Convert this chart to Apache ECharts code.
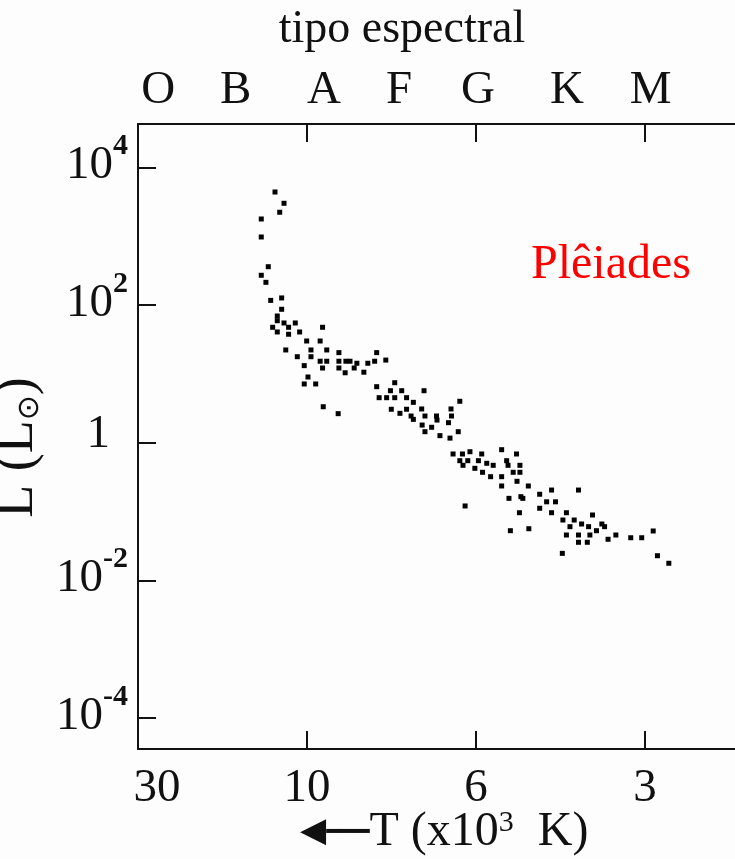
<!DOCTYPE html>
<html>
<head>
<meta charset="utf-8">
<script src="https://cdn.jsdelivr.net/npm/echarts@6/dist/echarts.min.js"></script>
<style>
  html, body { margin: 0; padding: 0; background: #fdfdfd; }
  #chart { width: 735px; height: 859px; }
</style>
</head>
<body>
<div id="chart"></div>
<script>
// Temperature ticks along the bottom axis (thousands of K)
const tempTicks = [30, 10, 6, 3];
const tempTickLabels = ['30', '10', '6', '3'];

// Spectral classes along the top axis and the temperature each letter sits at
const spectralTypes = ['O', 'B', 'A', 'F', 'G', 'K', 'M'];
const spectralTemps = [26.3, 15.9, 9.5, 7.57, 5.95, 4.13, 2.93];

// Luminosity ticks (solar units)
const lumTicks = [1e-4, 1e-2, 1, 1e2, 1e4];

// Pleiades members: effective temperature (10^3 K)
const starTemp = [
  12.31, 11.61, 11.94, 13.46, 13.46, 12.86, 13.46, 13.06, 12.66, 11.79,
  11.79, 12.13, 12.13, 11.61, 12.50, 12.13, 11.27, 10.79, 11.27, 10.49,
  9.54, 10.02, 9.61, 11.48, 9.88, 9.42, 10.65, 9.88, 10.18, 9.61,
  9.42, 9.54, 9.08, 9.08, 8.89, 8.78, 9.08, 8.91, 8.60, 8.67,
  8.32, 8.42, 8.10, 8.15, 7.88, 9.97, 10.18, 9.74, 9.52, 9.10,
  8.10, 7.67, 7.77, 7.51, 8.04, 7.86, 7.67, 7.40, 7.25, 7.02,
  7.75, 7.55, 7.40, 7.30, 7.25, 7.07, 7.00, 6.76, 6.75, 6.52,
  6.47, 6.46, 6.30, 7.06, 6.86, 7.00, 6.69, 6.49, 6.33, 6.43,
  6.25, 6.11, 6.30, 6.15, 5.94, 5.86, 5.74, 6.02, 5.40, 5.08,
  5.59, 5.29, 5.26, 5.01, 6.24, 5.84, 5.65, 5.40, 5.15, 5.01,
  5.07, 5.40, 4.84, 4.62, 4.40, 3.94, 4.99, 5.24, 4.95, 4.49,
  4.33, 4.62, 4.40, 5.02, 6.20, 4.14, 3.72, 4.20, 4.01, 5.21,
  4.83, 4.08, 3.89, 3.78, 3.58, 3.54, 3.66, 4.14, 3.94, 3.76,
  3.94, 3.80, 3.38, 3.49, 3.18, 3.04, 2.90, 4.21, 2.85, 2.72
];

// Pleiades members: luminosity (L_sun), same order as starTemp
const starLum = [
  4390, 3010, 2230, 1780, 975, 361, 271, 214, 117, 127,
  86.9, 69.4, 59.3, 55.0, 47.6, 40.7, 47.6, 55.0, 37.7, 40.7,
  47.6, 30.1, 30.1, 22.3, 22.3, 22.3, 17.8, 17.8, 13.2, 15.3,
  15.3, 12.2, 20.4, 15.3, 15.3, 15.3, 12.2, 10.4, 14.3, 12.2,
  14.3, 10.6, 20.4, 15.3, 15.9, 9.03, 7.15, 7.15, 3.34, 2.65,
  6.53, 7.46, 5.71, 5.71, 4.52, 4.52, 4.52, 4.52, 3.87, 5.71,
  3.07, 2.68, 3.07, 2.45, 2.19, 3.10, 2.45, 2.45, 2.14, 1.96,
  3.10, 2.45, 4.01, 1.81, 1.68, 1.45, 1.27, 1.17, 1.45, 0.688,
  0.688, 0.742, 0.550, 0.550, 0.550, 0.688, 0.504, 0.426, 0.794, 0.688,
  0.471, 0.550, 0.471, 0.471, 0.471, 0.373, 0.322, 0.322, 0.373, 0.373,
  0.276, 0.236, 0.236, 0.179, 0.206, 0.206, 0.165, 0.156, 0.156, 0.139,
  0.139, 0.112, 0.0965, 0.0965, 0.121, 0.0965, 0.0894, 0.0756, 0.0756, 0.0529,
  0.0565, 0.0605, 0.0662, 0.0605, 0.0662, 0.0605, 0.0529, 0.0458, 0.0458, 0.0458,
  0.0359, 0.0359, 0.0458, 0.0397, 0.0418, 0.0418, 0.0524, 0.0248, 0.0229, 0.0178
];

// The temperature axis is spaced evenly between its labelled ticks,
// log-interpolated inside each interval (hot stars on the left).
const logTicks = tempTicks.map(Math.log10);
function tempToAxis(t) {
  const lt = Math.log10(t);
  let i = 0;
  while (i < logTicks.length - 2 && lt < logTicks[i + 1]) i++;
  return i + (logTicks[i] - lt) / (logTicks[i] - logTicks[i + 1]);
}

const tickPos = tempTicks.map(tempToAxis);
const spectralPos = spectralTemps.map(tempToAxis);
const lumExp = lumTicks.map(v => Math.round(Math.log10(v)));

function indexOfPos(list, v) {
  return list.findIndex(p => Math.abs(p - v) < 1e-6);
}

const serif = '"Liberation Serif", "Times New Roman", serif';
const sans = '"DejaVu Sans", sans-serif';
const ink = '#111';
const X_MAX = 3.533;

const points = starTemp.map((t, i) => [tempToAxis(t), Math.log10(starLum[i])]);

const chart = echarts.init(document.getElementById('chart'), null, { renderer: 'canvas' });

const axisLineStyle = { show: true, onZero: false, lineStyle: { color: ink, width: 2 } };
const tickStyle = { color: ink, width: 2 };

chart.setOption({
  backgroundColor: '#fdfdfd',
  animation: false,
  grid: { left: 138, right: 0, top: 124, bottom: 110, containLabel: false, outerBoundsMode: 'none' },
  xAxis: [
    {
      type: 'value',
      position: 'bottom',
      min: 0,
      max: X_MAX,
      axisLine: axisLineStyle,
      splitLine: { show: false },
      axisTick: { show: true, inside: true, length: 18, lineStyle: tickStyle, customValues: tickPos },
      axisLabel: {
        customValues: tickPos,
        margin: 16,
        color: ink,
        fontFamily: serif,
        fontSize: 47,
        formatter: v => {
          const i = indexOfPos(tickPos, v);
          return i === 0 ? '{first|' + tempTickLabels[i] + '}' : tempTickLabels[i];
        },
        rich: { first: { fontFamily: serif, fontSize: 47, color: ink, padding: [0, 0, 0, 38] } }
      }
    },
    {
      type: 'value',
      position: 'top',
      min: 0,
      max: X_MAX,
      axisLine: axisLineStyle,
      splitLine: { show: false },
      axisTick: { show: true, inside: true, length: 18, lineStyle: tickStyle, customValues: tickPos },
      axisLabel: {
        customValues: spectralPos,
        margin: 10,
        color: ink,
        fontFamily: serif,
        fontSize: 47,
        formatter: v => spectralTypes[indexOfPos(spectralPos, v)]
      }
    }
  ],
  yAxis: {
    type: 'value',
    min: -4.447,
    max: 4.63,
    axisLine: axisLineStyle,
    splitLine: { show: false },
    axisTick: { show: true, inside: true, length: 18, lineStyle: tickStyle, customValues: lumExp },
    axisLabel: {
      customValues: lumExp,
      margin: 10,
      color: ink,
      formatter: v => {
        const e = Math.round(v);
        return e === 0 ? '{one|1}' : '{n|10}{s|' + e + '}';
      },
      rich: {
        n: { fontFamily: serif, fontSize: 47, lineHeight: 44, color: ink, verticalAlign: 'bottom' },
        s: { fontFamily: serif, fontSize: 30, fontWeight: 'bold', lineHeight: 28, color: ink,
             verticalAlign: 'bottom', padding: [0, 0, 28, 0] },
        one: { fontFamily: serif, fontSize: 47, lineHeight: 44, color: ink, padding: [0, 18, 16, 0] }
      }
    },
    name: 'L (L{sub|⊙})',
    nameLocation: 'middle',
    nameRotate: 90,
    nameGap: 86,
    nameTextStyle: {
      fontFamily: serif,
      fontSize: 54,
      color: ink,
      padding: [0, 22, 0, 0],
      rich: {
        sub: { fontFamily: sans, fontSize: 30, color: ink, verticalAlign: 'bottom' }
      }
    }
  },
  graphic: [
    {
      type: 'text',
      x: 402, y: 30,
      silent: true,
      style: { text: 'tipo espectral', align: 'center', verticalAlign: 'middle',
               font: '46px ' + serif, fill: ink }
    },
    {
      type: 'text',
      x: 531, y: 265,
      silent: true,
      style: { text: 'Plêiades', align: 'left', verticalAlign: 'middle',
               font: '48px ' + serif, fill: '#ff0000' }
    },
    {
      type: 'text',
      x: 300, y: 832,
      silent: true,
      style: {
        text: '{h|◀}{a|━━━}T (x10{s|3}  K)',
        align: 'left', verticalAlign: 'middle',
        font: '48px ' + serif, fill: ink,
        rich: {
          h: { fontFamily: sans, fontSize: 34, fill: ink, verticalAlign: 'bottom', padding: [0, 0, 7, 0] },
          a: { fontFamily: sans, fontSize: 24, fill: ink, verticalAlign: 'bottom', padding: [0, 0, 11, 0] },
          s: { fontFamily: serif, fontSize: 30, fill: ink, verticalAlign: 'top' }
        }
      }
    }
  ],
  series: [
    {
      type: 'scatter',
      xAxisIndex: 0,
      symbol: 'rect',
      symbolSize: 5,
      itemStyle: { color: '#000', opacity: 1 },
      silent: true,
      data: points
    }
  ]
});
</script>
</body>
</html>
